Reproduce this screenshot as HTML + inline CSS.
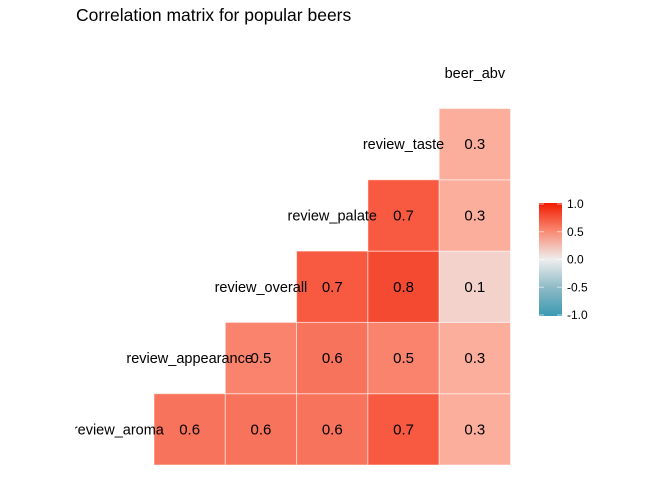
<!DOCTYPE html>
<html><head><meta charset="utf-8"><style>
body{margin:0;background:#fff;font-family:"Liberation Sans",Arial,sans-serif}
svg text{font-family:"Liberation Sans",Arial,sans-serif}
</style></head><body>
<svg id="chart" width="672" height="480" viewBox="0 0 672 480">
<defs>
<clipPath id="panel"><rect x="75" y="0" width="600" height="480"/></clipPath>
<linearGradient id="lg" x1="0" y1="0" x2="0" y2="1">
<stop offset="0" stop-color="#F21A00"/><stop offset="0.25" stop-color="#F98A73"/>
<stop offset="0.5" stop-color="#EEEEEE"/><stop offset="0.75" stop-color="#8DBAC6"/>
<stop offset="1" stop-color="#3B9AB2"/></linearGradient>
</defs>
<text x="76" y="21" font-size="17.5" fill="#000">Correlation matrix for popular beers</text>
<g id="cells" clip-path="url(#panel)"></g>
<g>
<rect x="539" y="203" width="23" height="113" fill="url(#lg)"/>
<g id="legend-ticks"></g>
</g>
</svg>
<script>
const variables=["review_aroma","review_appearance","review_overall","review_palate","review_taste","beer_abv"];
const rowAroma=[0.6,0.6,0.6,0.7,0.3];
const rowAppearance=[0.5,0.6,0.5,0.3];
const rowOverall=[0.7,0.8,0.1];
const rowPalate=[0.7,0.3];
const rowTaste=[0.3];
const rows=[rowAroma,rowAppearance,rowOverall,rowPalate,rowTaste];
const legendTicks=[1.0,0.5,0.0,-0.5,-1.0];
const legendLabels=["1.0","0.5","0.0","-0.5","-1.0"];

const ns="http://www.w3.org/2000/svg";
const cw=71.3, x0=154, yBottom=465;
function xPos(c){return x0+c*cw;}
function yPos(r){return yBottom-(r+1)*cw;}
const stops=[[-1,[59,154,178]],[-0.5,[141,186,198]],[0,[238,238,238]],[0.1,[242,210,202]],[0.3,[252,174,156]],[0.5,[249,131,108]],[0.6,[248,115,92]],[0.7,[247,90,65]],[0.8,[244,74,50]],[1,[242,26,0]]];
function color(v){
 for(let i=0;i<stops.length-1;i++){const a=stops[i],b=stops[i+1];
  if(v>=a[0]&&v<=b[0]){const t=(v-a[0])/(b[0]-a[0]);
   const c=a[1].map((q,j)=>Math.round(q+(b[1][j]-q)*t));return `rgb(${c})`;}}
 return "#ccc";}
const g=document.getElementById("cells");
rows.forEach((vals,r)=>{
 vals.forEach((v,i)=>{const c=r+i;
  const rect=document.createElementNS(ns,"rect");
  rect.setAttribute("x",xPos(c));rect.setAttribute("y",yPos(r));
  rect.setAttribute("width",cw);rect.setAttribute("height",cw);
  rect.setAttribute("fill",color(v));rect.setAttribute("stroke","#fff");rect.setAttribute("stroke-opacity","0.5");
  
  
  g.appendChild(rect);
  const t=document.createElementNS(ns,"text");
  t.setAttribute("x",xPos(c)+cw/2);t.setAttribute("y",yPos(r)+cw/2+5);
  t.setAttribute("text-anchor","middle");t.setAttribute("font-size","15");
  t.textContent=v.toFixed(1);
  
  
  g.appendChild(t);
 });
});
variables.forEach((name,r)=>{
 const t=document.createElementNS(ns,"text");
 t.setAttribute("x",xPos(r-1)+cw/2);t.setAttribute("y",yPos(r)+cw/2+5);
 t.setAttribute("text-anchor","middle");t.setAttribute("font-size","14.5");
 t.textContent=name;
 
 
 g.appendChild(t);
});
const lg=document.getElementById("legend-ticks");
legendTicks.forEach((v,i)=>{
 const y=259.5-v*55.5;
 const t=document.createElementNS(ns,"text");
 t.setAttribute("x",567);t.setAttribute("y",y+4);t.setAttribute("font-size","12");
 t.textContent=legendLabels[i];
 
 
 lg.appendChild(t);
 [[539,544],[557,562]].forEach(p=>{const l=document.createElementNS(ns,"line");
  l.setAttribute("x1",p[0]);l.setAttribute("x2",p[1]);l.setAttribute("y1",y);l.setAttribute("y2",y);
  l.setAttribute("stroke","#fff");l.setAttribute("stroke-opacity","0.6");
  
  
  lg.appendChild(l);});
});
</script>
</body></html>
